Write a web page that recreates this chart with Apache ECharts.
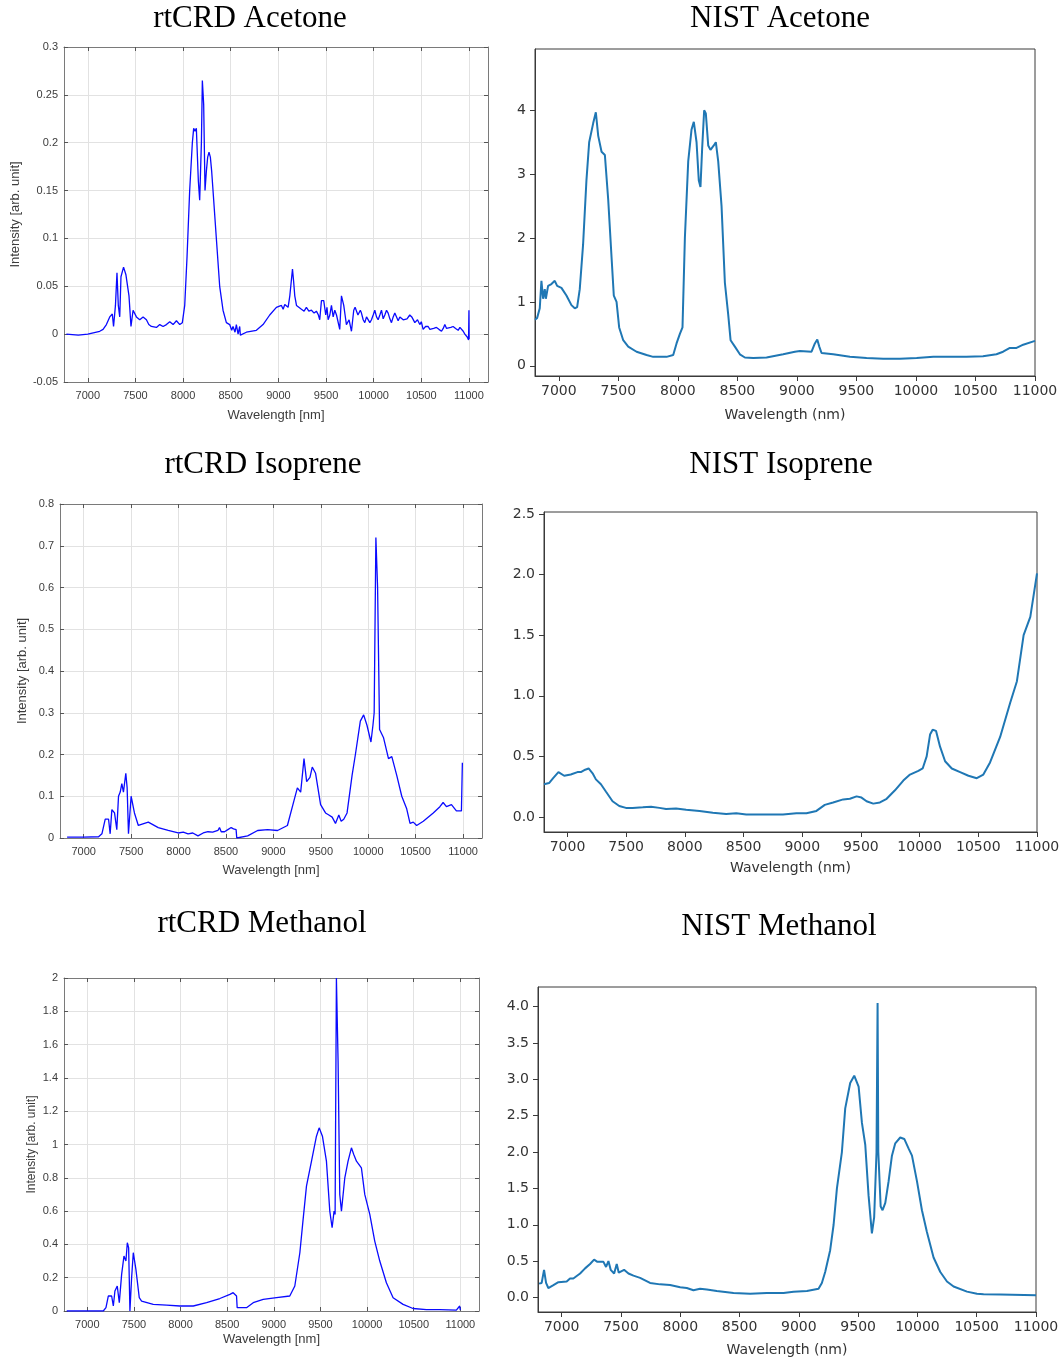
<!DOCTYPE html>
<html><head><meta charset="utf-8">
<script src="https://cdn.jsdelivr.net/npm/echarts@6/dist/echarts.min.js"></script>
<style>html,body{margin:0;padding:0;background:#fff}#c{width:1064px;height:1362px}</style>
</head><body><div id="c"></div><script>
const xTicks = [7000,7500,8000,8500,9000,9500,10000,10500,11000];
const nistAcetoneYTicks = [0,1,2,3,4];
const nistIsopreneYTicks = [0,0.5,1,1.5,2,2.5];
const nistMethanolYTicks = [0,0.5,1,1.5,2,2.5,3,3.5,4];
const titles = ['rtCRD Acetone','NIST Acetone','rtCRD Isoprene','NIST Isoprene','rtCRD Methanol','NIST Methanol'];

const crdAcetone = [[6775,0],[6900,-0.001],[7000,0],[7125,0.003],[7160,0.005],[7195,0.01],[7230,0.018],[7257,0.021],[7270,0.008],[7290,0.03],[7306,0.064],[7320,0.03],[7335,0.018],[7348,0.06],[7362,0.058],[7375,0.07],[7390,0.072],[7400,0.062],[7410,0.06],[7432,0.04],[7453,0.008],[7475,0.025],[7510,0.018],[7545,0.015],[7580,0.018],[7615,0.015],[7640,0.01],[7667,0.008],[7720,0.007],[7755,0.01],[7790,0.008],[7825,0.01],[7860,0.013],[7895,0.01],[7930,0.014],[7965,0.01],[7992,0.012],[8017,0.03],[8041,0.08],[8069,0.15],[8097,0.2],[8111,0.215],[8125,0.212],[8139,0.215],[8160,0.16],[8174,0.14],[8192,0.2],[8202,0.265],[8216,0.24],[8230,0.15],[8244,0.17],[8258,0.185],[8272,0.19],[8286,0.185],[8300,0.17],[8314,0.15],[8349,0.1],[8384,0.05],[8419,0.025],[8454,0.012],[8489,0.01],[8510,0.004],[8524,0.008],[8545,0.002],[8559,0.01],[8577,0.0],[8594,0.008],[8601,-0.001],[8664,0.002],[8769,0.004],[8839,0.01],[8909,0.02],[8979,0.028],[9032,0.03],[9050,0.026],[9067,0.031],[9102,0.028],[9120,0.04],[9148,0.068],[9160,0.055],[9172,0.04],[9190,0.03],[9207,0.028],[9242,0.026],[9270,0.024],[9294,0.028],[9320,0.024],[9347,0.025],[9375,0.022],[9399,0.024],[9420,0.02],[9434,0.015],[9452,0.035],[9476,0.035],[9497,0.02],[9510,0.028],[9522,0.015],[9540,0.02],[9557,0.03],[9575,0.018],[9592,0.025],[9610,0.02],[9627,0.02],[9644,0.005],[9662,0.04],[9686,0.03],[9700,0.02],[9714,0.01],[9728,0.012],[9742,0.015],[9767,0.003],[9780,0.015],[9791,0.025],[9805,0.028],[9819,0.03],[9835,0.02],[9847,0.018],[9860,0.025],[9872,0.022],[9890,0.015],[9907,0.012],[9925,0.018],[9942,0.02],[9960,0.012],[9977,0.015],[9995,0.02],[10012,0.025],[10030,0.018],[10047,0.015],[10065,0.02],[10082,0.025],[10100,0.016],[10117,0.02],[10135,0.025],[10152,0.022],[10170,0.016],[10187,0.012],[10205,0.018],[10222,0.022],[10240,0.02],[10257,0.014],[10275,0.018],[10292,0.02],[10310,0.015],[10327,0.013],[10350,0.016],[10379,0.02],[10400,0.018],[10432,0.012],[10460,0.015],[10484,0.01],[10500,0.013],[10519,0.005],[10545,0.008],[10572,0.008],[10590,0.005],[10607,0.003],[10630,0.006],[10659,0.007],[10685,0.005],[10712,0.003],[10730,0.006],[10747,0.01],[10765,0.006],[10782,0.005],[10810,0.007],[10834,0.008],[10860,0.006],[10887,0.004],[10905,0.007],[10922,0.005],[10940,0.003],[10957,0.0],[10970,0.002],[10982,-0.003],[10996,-0.006],[11000,0.025],[11002,-0.005]];

const nistAcetone = [[6800,0.72],[6818,0.75],[6840,0.9],[6854,1.33],[6868,1.05],[6882,1.2],[6891,1.05],[6910,1.25],[6938,1.28],[6966,1.33],[6986,1.25],[7022,1.22],[7064,1.1],[7106,0.95],[7134,0.9],[7154,0.92],[7176,1.2],[7204,1.9],[7232,2.9],[7255,3.5],[7289,3.8],[7311,3.97],[7331,3.6],[7359,3.35],[7387,3.3],[7415,2.6],[7443,1.7],[7462,1.1],[7485,1.0],[7507,0.6],[7541,0.4],[7583,0.3],[7653,0.22],[7737,0.17],[7793,0.14],[7905,0.14],[7961,0.17],[7989,0.35],[8017,0.5],[8039,0.6],[8059,2.0],[8087,3.2],[8115,3.7],[8134,3.82],[8157,3.5],[8176,2.9],[8190,2.8],[8204,3.4],[8221,4.0],[8235,3.95],[8255,3.45],[8274,3.38],[8302,3.45],[8319,3.5],[8339,3.2],[8367,2.5],[8395,1.3],[8423,0.8],[8443,0.4],[8479,0.3],[8521,0.18],[8563,0.13],[8633,0.12],[8745,0.13],[8885,0.18],[8983,0.22],[9025,0.23],[9123,0.22],[9151,0.35],[9171,0.41],[9188,0.3],[9207,0.2],[9305,0.18],[9445,0.14],[9585,0.12],[9725,0.11],[9866,0.11],[10006,0.12],[10146,0.14],[10423,0.14],[10563,0.15],[10676,0.18],[10732,0.22],[10789,0.28],[10845,0.28],[10901,0.33],[11000,0.39]];

const crdIsoprene = [[6825,0.002],[7000,0.002],[7157,0.003],[7192,0.01],[7227,0.045],[7262,0.045],[7279,0.01],[7297,0.068],[7325,0.06],[7349,0.02],[7367,0.1],[7385,0.11],[7402,0.13],[7419,0.11],[7444,0.155],[7458,0.12],[7472,0.01],[7500,0.1],[7535,0.06],[7576,0.03],[7681,0.038],[7786,0.025],[7891,0.018],[7996,0.012],[8050,0.014],[8100,0.01],[8150,0.012],[8205,0.005],[8260,0.012],[8310,0.015],[8360,0.014],[8415,0.018],[8432,0.025],[8450,0.015],[8485,0.015],[8520,0.02],[8555,0.025],[8580,0.022],[8607,0.02],[8614,0.0],[8729,0.005],[8834,0.018],[8939,0.02],[9044,0.018],[9148,0.03],[9218,0.09],[9253,0.12],[9288,0.11],[9323,0.19],[9351,0.135],[9386,0.145],[9410,0.17],[9445,0.155],[9498,0.08],[9550,0.06],[9585,0.055],[9620,0.05],[9655,0.035],[9690,0.055],[9715,0.04],[9742,0.045],[9777,0.06],[9830,0.15],[9865,0.2],[9917,0.28],[9952,0.295],[9987,0.27],[10029,0.23],[10050,0.27],[10063,0.3],[10081,0.72],[10099,0.6],[10120,0.26],[10162,0.24],[10214,0.19],[10249,0.195],[10301,0.15],[10354,0.1],[10406,0.07],[10441,0.035],[10475,0.038],[10511,0.03],[10581,0.04],[10686,0.06],[10756,0.075],[10790,0.085],[10825,0.075],[10878,0.08],[10930,0.065],[10983,0.065],[10993,0.18]];

const nistIsoprene = [[6800,0.27],[6843,0.28],[6878,0.32],[6923,0.37],[6972,0.34],[7028,0.35],[7085,0.37],[7114,0.37],[7151,0.39],[7180,0.40],[7214,0.36],[7242,0.31],[7285,0.27],[7327,0.21],[7384,0.13],[7441,0.09],[7498,0.075],[7555,0.075],[7641,0.08],[7712,0.085],[7783,0.075],[7840,0.065],[7925,0.07],[8011,0.06],[8125,0.05],[8238,0.035],[8352,0.025],[8438,0.03],[8523,0.02],[8637,0.02],[8751,0.02],[8836,0.02],[8950,0.03],[9036,0.03],[9121,0.05],[9192,0.1],[9263,0.12],[9349,0.145],[9406,0.15],[9463,0.17],[9505,0.16],[9548,0.13],[9605,0.11],[9662,0.12],[9719,0.15],[9790,0.22],[9861,0.3],[9918,0.35],[9989,0.38],[10026,0.4],[10060,0.5],[10089,0.68],[10111,0.72],[10140,0.71],[10174,0.58],[10217,0.46],[10274,0.4],[10345,0.37],[10416,0.34],[10487,0.32],[10543,0.35],[10600,0.45],[10686,0.66],[10771,0.94],[10829,1.12],[10886,1.5],[10943,1.65],[11000,2.01]];

const crdMethanol = [[6779,0],[7000,0],[7171,0],[7200,0.02],[7225,0.09],[7261,0.09],[7279,0.03],[7296,0.12],[7321,0.15],[7343,0.05],[7368,0.22],[7393,0.33],[7414,0.3],[7429,0.41],[7443,0.38],[7457,0.0],[7475,0.2],[7493,0.35],[7521,0.25],[7557,0.08],[7582,0.06],[7707,0.04],[7850,0.035],[7993,0.03],[8136,0.03],[8279,0.05],[8421,0.075],[8529,0.1],[8564,0.11],[8600,0.09],[8607,0.02],[8707,0.02],[8779,0.05],[8886,0.07],[9029,0.08],[9171,0.09],[9225,0.15],[9279,0.35],[9314,0.55],[9350,0.75],[9404,0.9],[9457,1.05],[9486,1.1],[9521,1.05],[9564,0.9],[9600,0.6],[9625,0.5],[9646,0.6],[9657,0.58],[9671,2.0],[9689,1.5],[9707,0.7],[9725,0.6],[9761,0.8],[9796,0.9],[9832,0.98],[9857,0.94],[9886,0.9],[9939,0.86],[9975,0.7],[10029,0.58],[10082,0.42],[10136,0.3],[10207,0.17],[10279,0.08],[10386,0.04],[10493,0.015],[10636,0.008],[10779,0.008],[10957,0.005],[10993,0.03],[11000,0.005]];

const nistMethanol = [[6809,0.19],[6831,0.2],[6851,0.38],[6868,0.2],[6887,0.13],[6930,0.17],[6972,0.21],[7042,0.22],[7070,0.26],[7098,0.26],[7155,0.33],[7197,0.4],[7239,0.46],[7273,0.52],[7301,0.49],[7352,0.49],[7374,0.42],[7394,0.5],[7413,0.38],[7442,0.33],[7464,0.46],[7481,0.34],[7526,0.38],[7563,0.33],[7605,0.3],[7661,0.27],[7745,0.2],[7830,0.18],[7914,0.17],[7999,0.14],[8055,0.13],[8111,0.1],[8167,0.12],[8224,0.11],[8308,0.09],[8449,0.06],[8589,0.05],[8730,0.06],[8871,0.06],[8955,0.08],[9068,0.09],[9166,0.12],[9194,0.2],[9222,0.35],[9264,0.65],[9293,1.0],[9321,1.5],[9363,2.0],[9391,2.6],[9433,2.95],[9467,3.05],[9504,2.9],[9532,2.4],[9560,2.1],[9588,1.4],[9616,0.88],[9635,1.1],[9655,2.0],[9664,4.05],[9670,2.0],[9690,1.25],[9706,1.2],[9729,1.3],[9757,1.6],[9785,1.95],[9813,2.12],[9855,2.2],[9889,2.18],[9925,2.05],[9954,1.95],[9996,1.6],[10038,1.2],[10080,0.9],[10136,0.55],[10193,0.35],[10249,0.22],[10305,0.15],[10418,0.08],[10502,0.05],[10558,0.045],[10699,0.04],[11000,0.03]];

// layout (pixels)
const panels = [
  {kind:'crd', data:crdAcetone, rect:[64,47,424,335], ymin:-0.05, ymax:0.3, yint:0.05, ynameGap:42, xnameGap:27, yname:13, tx:250, ty:18},
  {kind:'nist', data:nistAcetone, rect:[535,49,500,327], ymin:-0.16, ymax:4.96, yticks:nistAcetoneYTicks, dec:0, xnameGap:32, tx:780, ty:18},
  {kind:'crd', data:crdIsoprene, rect:[60,504,422,334], ymin:0, ymax:0.8, yint:0.1, ynameGap:31, xnameGap:26, yname:13, tx:263, ty:464},
  {kind:'nist', data:nistIsoprene, rect:[544,512,493,320], ymin:-0.124, ymax:2.516, yticks:nistIsopreneYTicks, dec:1, xnameGap:29, tx:781, ty:464},
  {kind:'crd', data:crdMethanol, rect:[64,978,415,333], ymin:0, ymax:2, yint:0.2, ynameGap:26, xnameGap:22, yname:12, tx:262, ty:923},
  {kind:'nist', data:nistMethanol, rect:[538,987,498,325], ymin:-0.2, ymax:4.27, yticks:nistMethanolYTicks, dec:1, xnameGap:31, tx:779, ty:926}
];

const plainNum = (v) => String(Math.round(v));
const grid = [], xAxis = [], yAxis = [], series = [], graphic = [];
const crdText = '#3c3c3c', crdFont = 'Liberation Sans';
panels.forEach((p, i) => {
  grid.push({left:p.rect[0], top:p.rect[1], width:p.rect[2], height:p.rect[3], containLabel:false,
    show: p.kind==='nist', borderColor:'#3a3a3a', borderWidth:1});
  graphic.push({type:'text', x:p.tx, y:p.ty + 1, style:{text:titles[i], font:'31px "Liberation Serif"', fill:'#000', textAlign:'center', textVerticalAlign:'middle'}});
  const xi = xAxis.length, yi = yAxis.length;
  if (p.kind === 'crd') {
    xAxis.push({gridIndex:i, type:'value', min:6750, max:11200,
      axisLine:{show:true, onZero:false, lineStyle:{color:'#7a7a7a', width:1}},
      axisTick:{show:true, inside:true, length:4, customValues:xTicks, lineStyle:{color:'#555'}},
      axisLabel:{customValues:xTicks, fontSize:11, color:crdText, fontFamily:crdFont, margin:8, formatter:plainNum},
      splitLine:{show:true, lineStyle:{color:'#e2e2e2', width:1}},
      name:'Wavelength [nm]', nameLocation:'middle', nameGap:p.xnameGap,
      nameTextStyle:{fontSize:13, color:crdText, fontFamily:crdFont}});
    xAxis.push({gridIndex:i, type:'value', min:6750, max:11200, position:'top',
      axisLine:{show:true, onZero:false, lineStyle:{color:'#7a7a7a', width:1}},
      axisTick:{show:true, inside:true, length:4, customValues:xTicks, lineStyle:{color:'#555'}},
      axisLabel:{show:false}, splitLine:{show:false}});
    yAxis.push({gridIndex:i, type:'value', min:p.ymin, max:p.ymax, interval:p.yint,
      axisLine:{show:true, onZero:false, lineStyle:{color:'#7a7a7a', width:1}},
      axisTick:{show:true, inside:true, length:4, lineStyle:{color:'#555'}},
      axisLabel:{fontSize:11, color:crdText, fontFamily:crdFont, margin:6},
      splitLine:{show:true, lineStyle:{color:'#e2e2e2', width:1}},
      name:'Intensity [arb. unit]', nameLocation:'middle', nameGap:p.ynameGap, nameRotate:90,
      nameTextStyle:{fontSize:p.yname, color:crdText, fontFamily:crdFont}});
    yAxis.push({gridIndex:i, type:'value', min:p.ymin, max:p.ymax, interval:p.yint, position:'right',
      axisLine:{show:true, onZero:false, lineStyle:{color:'#7a7a7a', width:1}},
      axisTick:{show:true, inside:true, length:4, lineStyle:{color:'#555'}},
      axisLabel:{show:false}, splitLine:{show:false}});
    series.push({type:'line', xAxisIndex:xi, yAxisIndex:yi, data:p.data, showSymbol:false, symbol:'none',
      lineStyle:{color:'#0a0aff', width:1.3}, animation:false});
  } else {
    xAxis.push({gridIndex:i, type:'value', min:6800, max:11000,
      axisLine:{show:true, onZero:false, lineStyle:{color:'#3a3a3a', width:1}},
      axisTick:{show:true, inside:false, length:5, customValues:xTicks, lineStyle:{color:'#3a3a3a'}},
      axisLabel:{customValues:xTicks, fontSize:14, color:'#333', fontFamily:'DejaVu Sans', margin:8, formatter:plainNum},
      splitLine:{show:false},
      name:'Wavelength (nm)', nameLocation:'middle', nameGap:p.xnameGap,
      nameTextStyle:{fontSize:14, color:'#333', fontFamily:'DejaVu Sans'}});
    yAxis.push({gridIndex:i, type:'value', min:p.ymin, max:p.ymax,
      axisLine:{show:true, onZero:false, lineStyle:{color:'#3a3a3a', width:1}},
      axisTick:{show:true, inside:false, length:5, customValues:p.yticks, lineStyle:{color:'#3a3a3a'}},
      axisLabel:{customValues:p.yticks, fontSize:14, color:'#333', fontFamily:'DejaVu Sans', margin:9,
        formatter:(v)=>Number(v).toFixed(p.dec)},
      splitLine:{show:false}});
    series.push({type:'line', xAxisIndex:xi, yAxisIndex:yi, data:p.data, showSymbol:false, symbol:'none',
      lineStyle:{color:'#1f77b4', width:2}, animation:false});
  }
});

const chart = echarts.init(document.getElementById('c'), null, {renderer:'canvas'});
chart.setOption({backgroundColor:'#fff', animation:false, grid, xAxis, yAxis, series, graphic});
</script></body></html>
